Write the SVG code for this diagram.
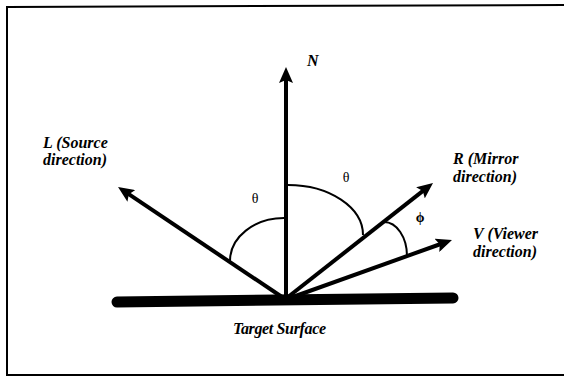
<svg xmlns="http://www.w3.org/2000/svg" width="564" height="379" viewBox="0 0 564 379">
<style>
.vec{stroke:#000;stroke-width:4;fill:none;marker-end:url(#ah)}
.arc{stroke:#000;stroke-width:2;fill:none}
.lbl{font-family:"Liberation Serif","Times New Roman",serif;font-style:italic;font-weight:bold;font-size:16px;fill:#000}
.ang{font-family:"Liberation Serif","Times New Roman",serif;font-size:14px;fill:#000;text-anchor:middle}
</style>
<defs>
<marker id="ah" viewBox="0 0 16 14" markerWidth="16" markerHeight="14" refX="4" refY="7" orient="auto" markerUnits="userSpaceOnUse">
<path d="M0,0 L16,7 L0,14 L3,7 z" fill="#000"/>
</marker>
</defs>
<rect width="564" height="379" fill="#fff"/>
<polyline points="564,5 7,7 7,375 564,375" fill="none" stroke="#000" stroke-width="2"/>
<g id="surface">
<line x1="117" y1="302" x2="453" y2="298" stroke="#000" stroke-width="11" stroke-linecap="round"/>
<text class="lbl" x="233" y="334" font-size="13" textLength="93">Target Surface</text>
</g>
<g id="connectors">
<line class="vec" x1="286" y1="300" x2="286" y2="79"/>
<line class="vec" x1="285" y1="299" x2="128" y2="193.7"/>
<line class="vec" x1="288" y1="297" x2="423.6" y2="190.4"/>
<line class="vec" x1="290" y1="298" x2="440.7" y2="244"/>
<path class="arc" d="M284,218 A54,43 0 0 0 230,261"/>
<path class="arc" d="M288,185 A75,50 0 0 1 363,235"/>
<path class="arc" d="M384,222 A23,34 0 0 1 407,256"/>
</g>
<g id="N"><text class="lbl" x="307" y="66">N</text></g>
<g id="L"><text class="lbl" x="43" y="148">L (Source</text><text class="lbl" x="43" y="165">direction)</text></g>
<g id="R"><text class="lbl" x="453" y="164">R (Mirror</text><text class="lbl" x="453" y="182">direction)</text></g>
<g id="V"><text class="lbl" x="473" y="239" font-size="15">V (Viewer</text><text class="lbl" x="473" y="257" font-size="15">direction)</text></g>
<g id="theta1"><text class="ang" x="255" y="203">θ</text></g>
<g id="theta2"><text class="ang" x="346" y="182">θ</text></g>
<g id="phi"><text class="ang" x="420" y="222" font-weight="bold">ϕ</text></g>
</svg>
